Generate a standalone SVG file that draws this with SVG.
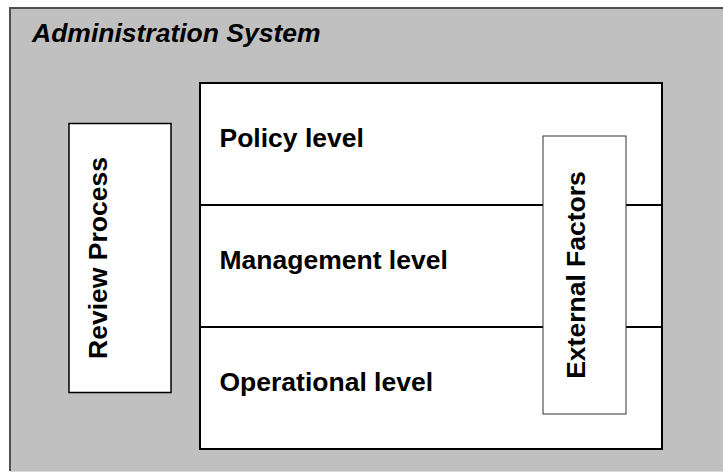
<svg xmlns="http://www.w3.org/2000/svg" width="723" height="472" viewBox="0 0 723 472">
<style>
text{font-family:"Liberation Sans",Arial,sans-serif;font-weight:bold;fill:#000}
.lbl{font-size:26.5px}
</style>
<rect width="723" height="472" fill="#ffffff"/>
<g id="admin-system">
<rect x="10" y="8" width="720" height="463" fill="#c0c0c0"/>
<path d="M10,471 V8 H723" fill="none" stroke="#505050" stroke-width="2"/>
<line x1="10" y1="471.5" x2="723" y2="471.5" stroke="#d8d8d8" stroke-width="1"/>
<text x="32" y="42" font-size="26.5" font-style="italic">Administration System</text>
</g>
<g id="levels">
<rect x="200" y="83" width="462" height="366" fill="#ffffff" stroke="#000" stroke-width="2"/>
</g>
<g id="connectors">
<line x1="200" y1="205" x2="662" y2="205" stroke="#000" stroke-width="2"/>
<line x1="200" y1="327" x2="662" y2="327" stroke="#000" stroke-width="2"/>
</g>
<g id="policy-level"><text class="lbl" x="219.5" y="147">Policy level</text></g>
<g id="management-level"><text class="lbl" x="219.5" y="269">Management level</text></g>
<g id="operational-level"><text class="lbl" x="219.5" y="391">Operational level</text></g>
<g id="review-process">
<rect x="69" y="123.5" width="102" height="269" fill="#ffffff" stroke="#000" stroke-width="1.5"/>
<text class="lbl" transform="translate(106.5,258) rotate(-90)" text-anchor="middle">Review Process</text>
</g>
<g id="external-factors">
<rect x="543" y="136" width="83" height="278" fill="#ffffff" stroke="#333" stroke-width="1"/>
<text class="lbl" transform="translate(585,275) rotate(-90)" text-anchor="middle">External Factors</text>
</g>
</svg>
